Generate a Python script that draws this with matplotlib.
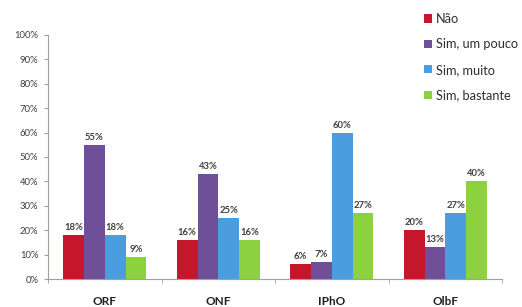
import matplotlib
matplotlib.use("Agg")
import matplotlib.pyplot as plt
import numpy as np

categories = ["ORF", "ONF", "IPhO", "OlbF"]
series_names = ["Não", "Sim, um pouco", "Sim, muito", "Sim, bastante"]
nao = [18, 16, 6, 20]
um_pouco = [55, 43, 7, 13]
muito = [18, 25, 60, 27]
bastante = [9, 16, 27, 40]
series = [nao, um_pouco, muito, bastante]
colors = ["#C4172C", "#6E4F98", "#4A9EE0", "#8ED13F"]
yticks = list(range(0, 101, 10))

plt.rcParams['font.family'] = ['Lato', 'DejaVu Sans']
fig = plt.figure(figsize=(5.22, 3.07), dpi=100)
ax = fig.add_axes([0.092, 0.0912, 0.870, 0.795])

x = np.arange(len(categories))
w = 0.183
for i, (vals, c) in enumerate(zip(series, colors)):
    pos = x + (i - 1.5) * w
    ax.bar(pos, vals, width=w, color=c, edgecolor="none", label=series_names[i])
    for p, v in zip(pos, vals):
        ax.text(p, v + 1.2, f"{v}%", ha="center", va="bottom", fontsize=6.8,
                fontweight="bold", color="#404040")

ax.set_xlim(-0.5, len(categories) - 0.5)
ax.set_ylim(0, 100)
ax.set_yticks(yticks)
ax.set_yticklabels([f"{t}%" for t in yticks], fontsize=6.8, color="#404040")
ax.set_xticks(x)
ax.set_xticklabels(categories, fontsize=8.5, fontweight="bold", color="#202020")
ax.tick_params(axis="x", length=0, pad=12)
ax.set_xticks(np.arange(-0.5, len(categories)), minor=True)
ax.tick_params(axis="x", which="minor", length=3, color="#A0A0A0")
ax.tick_params(axis="y", length=3, color="#A0A0A0", pad=4)
for s in ["top", "right"]:
    ax.spines[s].set_visible(False)
for s in ["left", "bottom"]:
    ax.spines[s].set_color("#A0A0A0")
    ax.spines[s].set_linewidth(0.8)

fig.legend(loc="upper left", bbox_to_anchor=(0.790, 0.995), frameon=False,
           fontsize=9.2, handlelength=0.6, handleheight=0.6,
           handletextpad=0.35, labelspacing=1.05, labelcolor="#303030")

fig.savefig("out.png", dpi=100)
